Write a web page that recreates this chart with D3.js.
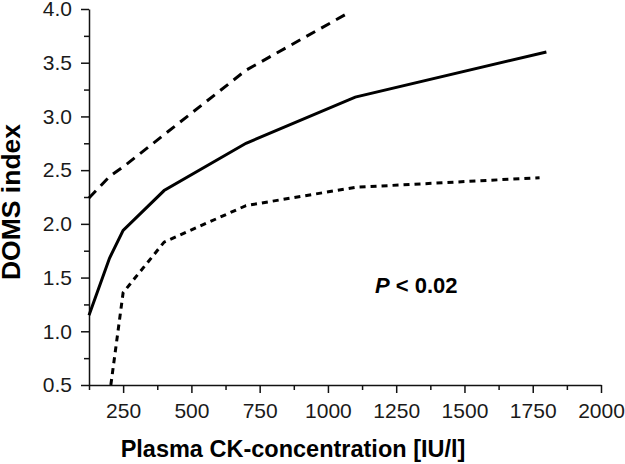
<!DOCTYPE html>
<html>
<head>
<meta charset="utf-8">
<script src="https://cdn.jsdelivr.net/npm/d3@7"></script>
<style>
  body { margin: 0; background: #fff; }
  svg { display: block; font-family: "Liberation Sans", Arial, sans-serif; }
</style>
</head>
<body>
<div id="main"></div>
<script>
// values
const meanLine  = [[125, 1.15], [200, 1.68], [250, 1.94], [400, 2.31], [700, 2.75], [1100, 3.18], [1800, 3.60]];
const upperLine = [[125, 2.24], [200, 2.44], [250, 2.53], [400, 2.83], [700, 3.43], [1065, 3.95]];
const lowerLine = [[205, 0.50], [250, 1.36], [400, 1.83], [700, 2.17], [1100, 2.34], [1775, 2.43]];
const xMajor = [250, 500, 750, 1000, 1250, 1500, 1750, 2000];
const xMinor = [125, 375, 625, 875, 1125, 1375, 1625, 1875];
const yMajor = [0.5, 1.0, 1.5, 2.0, 2.5, 3.0, 3.5, 4.0];
const yMinor = [0.75, 1.25, 1.75, 2.25, 2.75, 3.25, 3.75];

const width = 625, height = 464;
const svg = d3.select('#main').append('svg').attr('width', width).attr('height', height);

const x = d3.scaleLinear().domain([125, 2000]).range([89, 601]);
const y = d3.scaleLinear().domain([0.5, 4]).range([385, 9]);

// x axis
const gx = svg.append('g').attr('transform', `translate(0,${y(0.5)})`);
gx.call(d3.axisBottom(x).tickValues(xMajor).tickSize(8).tickSizeOuter(0).tickPadding(10).tickFormat(d3.format('d')));
gx.append('g').call(d3.axisBottom(x).tickValues(xMinor).tickSize(5).tickFormat(''))
  .select('.domain').remove();

// y axis
const gy = svg.append('g').attr('transform', `translate(${x(125)},0)`);
gy.call(d3.axisLeft(y).tickValues(yMajor).tickSize(8).tickSizeOuter(0).tickPadding(9).tickFormat(d3.format('.1f')));
gy.append('g').call(d3.axisLeft(y).tickValues(yMinor).tickSize(5).tickFormat(''))
  .select('.domain').remove();

svg.selectAll('.domain, .tick line').attr('stroke', '#111').attr('stroke-width', 1.5);
svg.selectAll('.tick text').attr('font-size', 21).attr('fill', '#1a1a1a')
  .attr('font-family', '"Liberation Sans", Arial, sans-serif');

// curves
const line = d3.line().x(d => x(d[0])).y(d => y(d[1]));
svg.append('path').datum(meanLine).attr('d', line)
  .attr('fill', 'none').attr('stroke', '#000').attr('stroke-width', 3);
svg.append('path').datum(upperLine).attr('d', line)
  .attr('fill', 'none').attr('stroke', '#000').attr('stroke-width', 3).attr('stroke-dasharray', '10,7');
svg.append('path').datum(lowerLine).attr('d', line)
  .attr('fill', 'none').attr('stroke', '#000').attr('stroke-width', 3).attr('stroke-dasharray', '6,5');

// labels
svg.append('text').attr('x', 293).attr('y', 457).attr('text-anchor', 'middle')
  .attr('font-size', 23.5).attr('font-weight', 'bold').attr('fill', '#000')
  .text('Plasma CK-concentration [IU/l]');

svg.append('text').attr('transform', 'translate(20,202) rotate(-90)').attr('text-anchor', 'middle')
  .attr('font-size', 26.5).attr('font-weight', 'bold').attr('fill', '#000')
  .text('DOMS index');

const p = svg.append('text').attr('x', 375).attr('y', 293)
  .attr('font-size', 22).attr('font-weight', 'bold').attr('fill', '#000');
p.append('tspan').attr('font-style', 'italic').text('P');
p.append('tspan').text(' < 0.02');
</script>
</body>
</html>
